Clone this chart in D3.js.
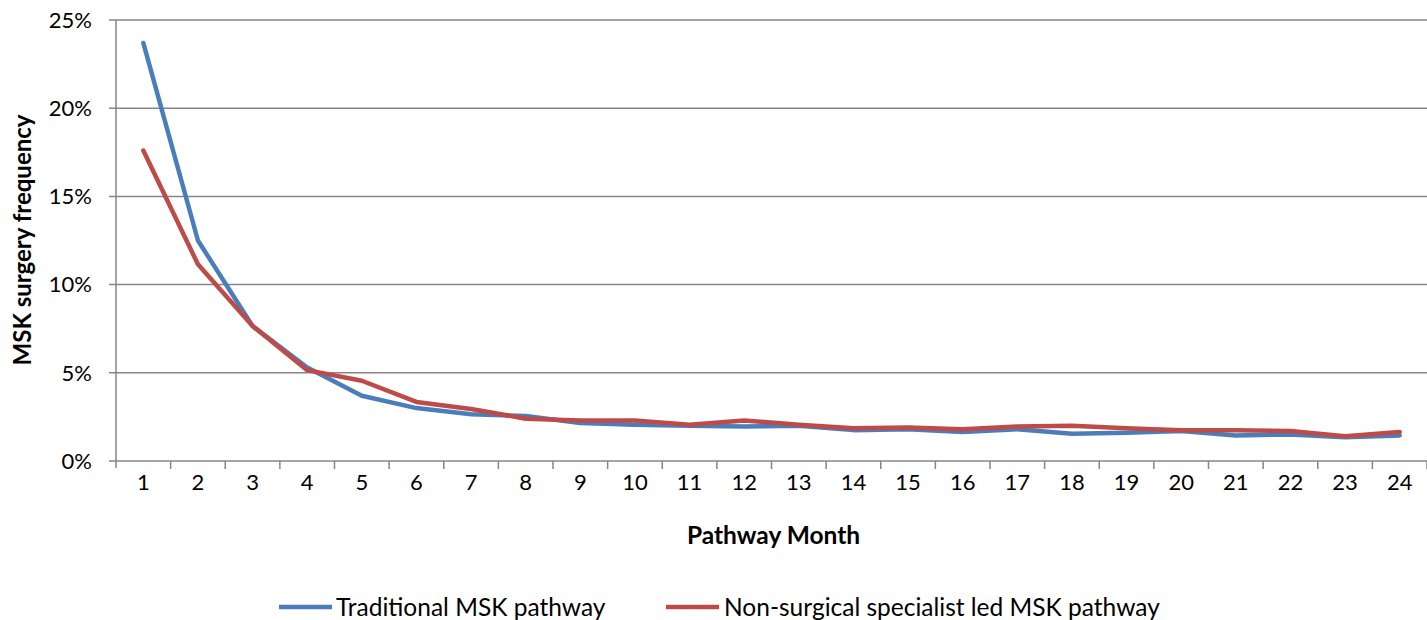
<!DOCTYPE html>
<html><head><meta charset="utf-8">
<script src="https://cdn.jsdelivr.net/npm/d3@7"></script>
<style>body{margin:0;background:#fff;} text{font-family:Lato, "Open Sans", sans-serif;}</style>
</head><body><svg id="c" width="1427" height="620"></svg>
<script>
const months = ["1","2","3","4","5","6","7","8","9","10","11","12","13","14","15","16","17","18","19","20","21","22","23","24"];
const traditional = [23.7,12.5,7.65,5.3,3.7,3.0,2.65,2.55,2.15,2.05,2.0,1.95,2.0,1.75,1.8,1.65,1.8,1.55,1.6,1.7,1.45,1.5,1.35,1.45];
const nonSurgical = [17.6,11.15,7.65,5.15,4.55,3.35,2.95,2.4,2.3,2.3,2.05,2.3,2.05,1.85,1.9,1.8,1.95,2.0,1.85,1.75,1.75,1.7,1.4,1.65];
const yTicks = [0,5,10,15,20,25];
const seriesNames = ["Traditional MSK pathway","Non-surgical specialist led MSK pathway"];
const colors = ["#4a7ebb","#be4b48"];

const svg = d3.select("#c");
const L=116, R=1427, T=20, B=461;
const x = d3.scaleBand().domain(months).range([L,R]);
const y = d3.scaleLinear().domain([0,25]).range([B,T]);
const grid="#868686";

svg.append("g").selectAll("line").data(yTicks).join("line")
 .attr("x1",L-7).attr("x2",R).attr("y1",d=>y(d)).attr("y2",d=>y(d))
 .attr("stroke",grid).attr("stroke-width",1.5);
svg.append("line").attr("x1",L).attr("x2",L).attr("y1",T).attr("y2",B+7).attr("stroke",grid).attr("stroke-width",1.5);
const xt = months.map(m=>x(m)).concat([R]).slice(1);
svg.append("g").selectAll("line").data(xt).join("line")
 .attr("x1",d=>d).attr("x2",d=>d).attr("y1",B).attr("y2",B+8).attr("stroke",grid).attr("stroke-width",1.5);

svg.append("g").selectAll("text").data(yTicks).join("text")
 .attr("x",92).attr("y",d=>y(d)).attr("dy","0.35em").attr("text-anchor","end")
 .attr("font-size",22).attr("fill","#000").text(d=>d+"%");
svg.append("g").selectAll("text").data(months).join("text")
 .attr("x",d=>x(d)+x.bandwidth()/2).attr("y",475).attr("dy","0.7em").attr("text-anchor","middle")
 .attr("font-size",22).attr("fill","#000").text(d=>d);

const line = d3.line().x((d,i)=>x(months[i])+x.bandwidth()/2).y(d=>y(d));
[traditional,nonSurgical].forEach((s,k)=>{
 svg.append("path").datum(s).attr("d",line).attr("fill","none").attr("stroke",colors[k])
  .attr("stroke-width",4.5).attr("stroke-linejoin","round").attr("stroke-linecap","round");
});

svg.append("text").attr("transform","translate(31,240) rotate(-90)").attr("text-anchor","middle")
 .attr("font-size",24).attr("font-weight","bold").text("MSK surgery frequency");
svg.append("text").attr("x",(L+R)/2 + 2).attr("y",544).attr("text-anchor","middle")
 .attr("font-size",24.5).attr("font-weight","bold").text("Pathway Month");

const lg=[{x:279,tx:336},{x:666,tx:724}];
seriesNames.forEach((n,k)=>{
 svg.append("line").attr("x1",lg[k].x).attr("x2",lg[k].x+53).attr("y1",607).attr("y2",607)
  .attr("stroke",colors[k]).attr("stroke-width",4.5);
 svg.append("text").attr("x",lg[k].tx).attr("y",607).attr("dy","0.35em").attr("font-size",24.5).text(n);
});
</script></body></html>
